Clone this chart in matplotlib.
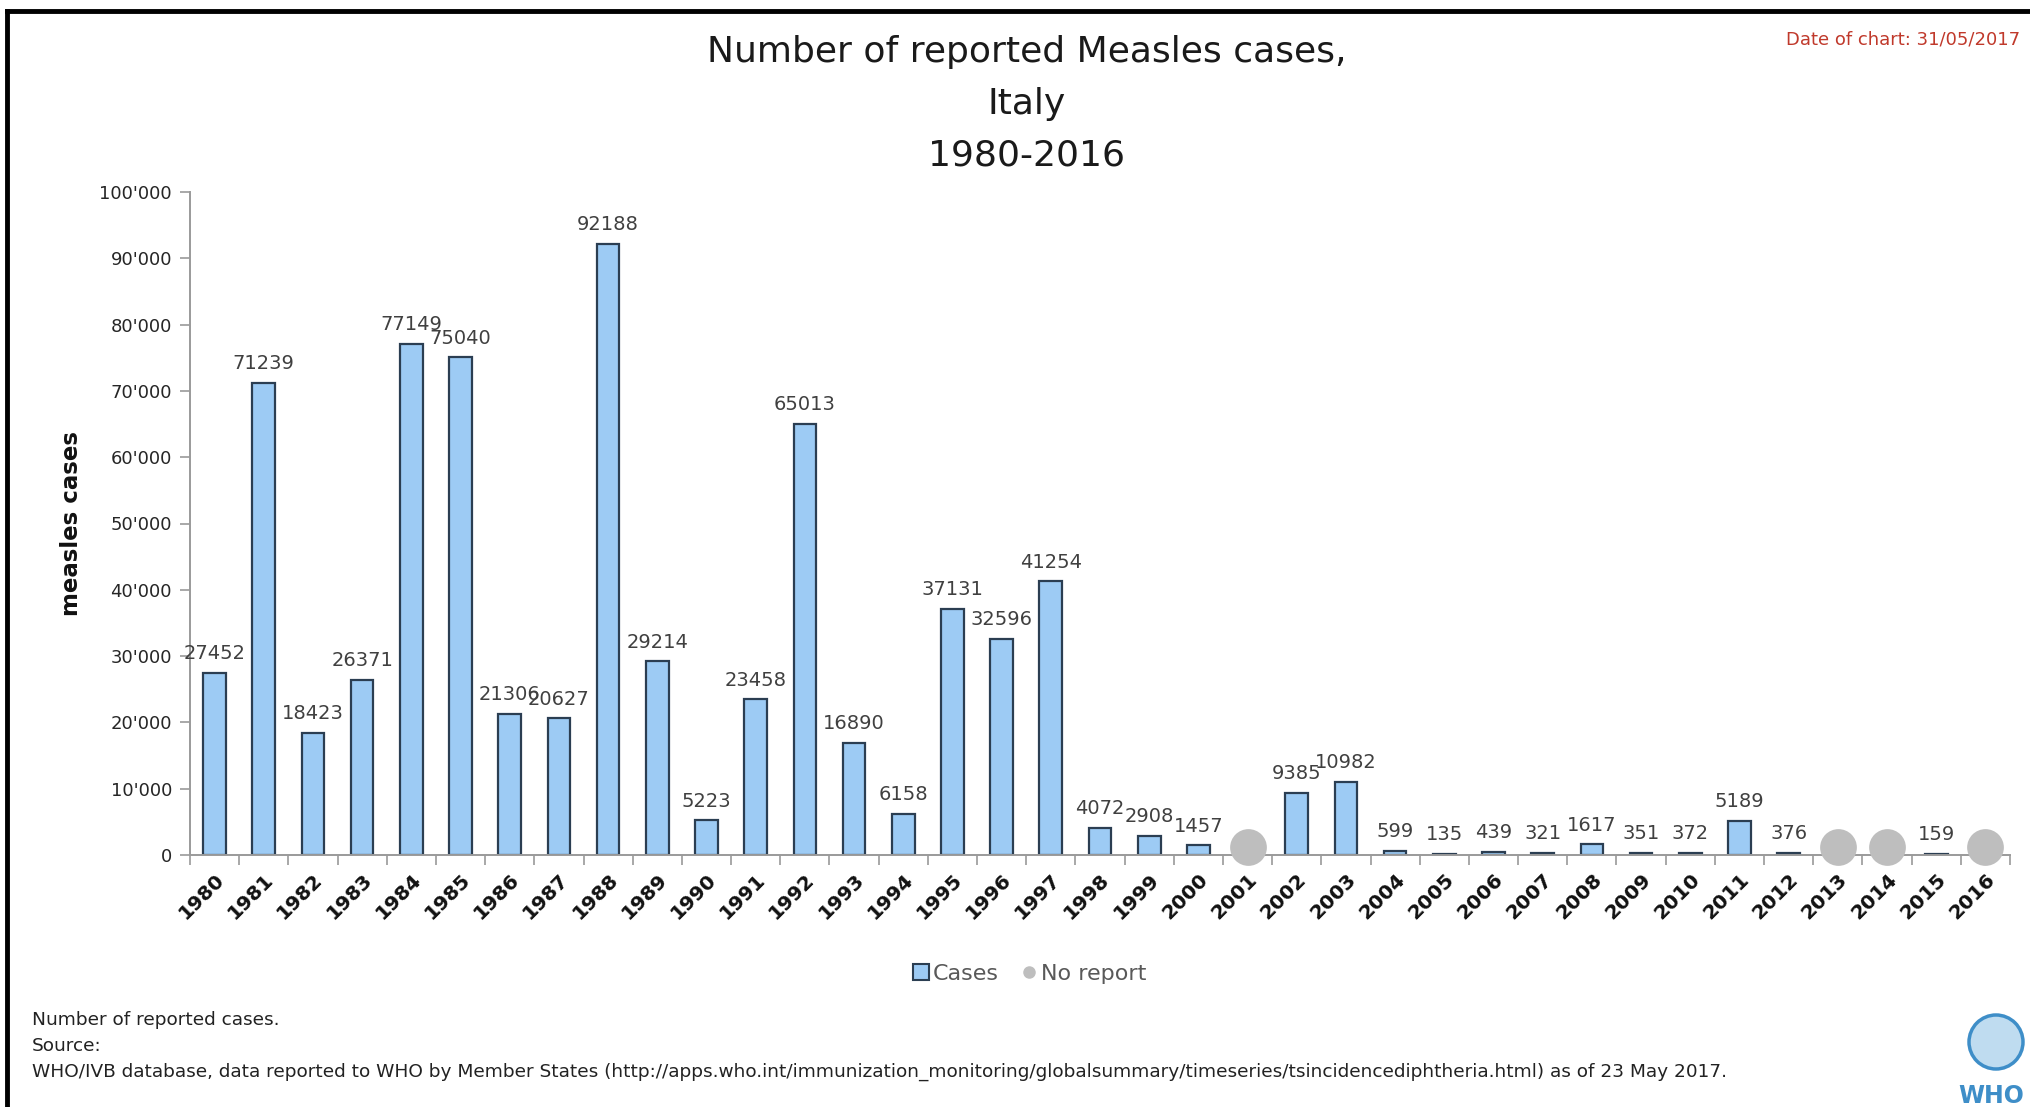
import matplotlib
matplotlib.use('Agg')
import matplotlib.pyplot as plt
import numpy as np
from matplotlib.ticker import FuncFormatter, FixedLocator
from matplotlib.lines import Line2D
from matplotlib.patches import Patch, Ellipse
import matplotlib.transforms as mtransforms

plt.rcParams['font.family'] = ['DejaVu Sans']

years = ['1980', '1981', '1982', '1983', '1984', '1985', '1986', '1987', '1988', '1989',
         '1990', '1991', '1992', '1993', '1994', '1995', '1996', '1997', '1998', '1999',
         '2000', '2001', '2002', '2003', '2004', '2005', '2006', '2007', '2008', '2009',
         '2010', '2011', '2012', '2013', '2014', '2015', '2016']
cases = [27452, 71239, 18423, 26371, 77149, 75040, 21306, 20627, 92188, 29214,
         5223, 23458, 65013, 16890, 6158, 37131, 32596, 41254, 4072, 2908,
         1457, None, 9385, 10982, 599, 135, 439, 321, 1617, 351,
         372, 5189, 376, None, None, 159, None]
no_report_years = ['2001', '2013', '2014', '2016']
y_ticks = [0, 10000, 20000, 30000, 40000, 50000, 60000, 70000, 80000, 90000, 100000]

W, H = 2030, 1107
fig = plt.figure(figsize=(W / 100, H / 100), dpi=100)
fig.patch.set_facecolor('white')

ax_left, ax_right, ax_top, ax_bottom = 190, 2010, 192, 855
ax = fig.add_axes([ax_left / W, 1 - ax_bottom / H, (ax_right - ax_left) / W, (ax_bottom - ax_top) / H])

x = np.arange(len(years))
vals = np.array([np.nan if v is None else v for v in cases], dtype=float)
ax.bar(x, np.nan_to_num(vals), width=0.46, color='#9DCBF4', edgecolor='#2B3E52',
       linewidth=1.6, zorder=2)

for xi, v in zip(x, cases):
    if v is not None:
        ax.annotate(str(v), (xi, v), xytext=(0, 7), textcoords='offset points',
                    ha='center', va='bottom', fontsize=14, color='#404040')

nr_idx = [years.index(y) for y in no_report_years]
off = mtransforms.offset_copy(ax.transData, fig=fig, x=0, y=6, units='points')
ax.scatter(nr_idx, [0] * len(nr_idx), s=700, color='#BEBEBE', zorder=4,
           clip_on=False, transform=off, linewidths=0)

ax.set_xlim(-0.5, len(years) - 0.5)
ax.set_ylim(0, 100000)
ax.set_xticks(x)
ax.set_xticklabels(years, rotation=45, ha='right', va='top', rotation_mode='anchor',
                   fontsize=14.5, fontweight='bold', color='#111111')
ax.xaxis.set_minor_locator(FixedLocator(np.arange(-0.5, len(years), 1.0)))
ax.tick_params(axis='x', which='major', length=0, pad=11)
ax.tick_params(axis='x', which='minor', length=7, color='#9A9A9A', width=1.2, direction='out')
ax.set_yticks(y_ticks)
ax.yaxis.set_major_formatter(FuncFormatter(lambda v, p: f"{int(v):,}".replace(',', "'")))
ax.tick_params(axis='y', length=7, color='#9A9A9A', width=1.2, labelsize=13,
               labelcolor='#262626', pad=6)
for s in ['top', 'right']:
    ax.spines[s].set_visible(False)
for s in ['left', 'bottom']:
    ax.spines[s].set_color('#9A9A9A')
    ax.spines[s].set_linewidth(1.4)

fig.text(71 / W, 1 - 524 / H, 'measles cases', rotation=90, fontweight='bold',
         fontsize=16.5, ha='center', va='center', color='#111111')

title_lines = ['Number of reported Measles cases,', 'Italy', '1980-2016']
for line, yp in zip(title_lines, [52, 104, 155]):
    fig.text(1027 / W, 1 - yp / H, line, fontsize=26, ha='center', va='center', color='#1a1a1a')

fig.text(2020 / W, 1 - 39 / H, 'Date of chart: 31/05/2017', color='#C0392B', fontsize=13,
         ha='right', va='center')

handles = [Patch(facecolor='#9DCBF4', edgecolor='#2B3E52', linewidth=1.5, label='Cases'),
           Line2D([], [], marker='o', linestyle='none', markersize=8, color='#BEBEBE',
                  label='No report')]
fig.legend(handles=handles, loc='center', bbox_to_anchor=(1030 / W, 1 - 974 / H), ncol=2,
           frameon=False, fontsize=16, labelcolor='#595959', handlelength=0.7,
           handleheight=0.7, handletextpad=0.2, columnspacing=1.0)

foot_size = 13.3
fig.text(32 / W, 1 - 1020 / H, 'Number of reported cases.', fontsize=foot_size, va='center', color='#222222')
fig.text(32 / W, 1 - 1046 / H, 'Source:', fontsize=foot_size, va='center', color='#222222')
fig.text(32 / W, 1 - 1072 / H,
         'WHO/IVB database, data reported to WHO by Member States '
         '(http://apps.who.int/immunization_monitoring/globalsummary/timeseries/tsincidencediphtheria.html) '
         'as of 23 May 2017.', fontsize=foot_size, va='center', color='#222222')

# frame
fig.add_artist(Line2D([7 / W, 7 / W], [0, 1 - 11 / H], transform=fig.transFigure, color='black', lw=3.5))
fig.add_artist(Line2D([7 / W, 1], [1 - 11 / H, 1 - 11 / H], transform=fig.transFigure, color='black', lw=3.5))

# WHO logo approximation
fig.add_artist(Ellipse((1996 / W, 1 - 1042 / H), width=54 / W, height=54 / H,
                       transform=fig.transFigure, facecolor='#BFDCF0', edgecolor='#3E8EC8', lw=2.5))
fig.text(1958 / W, 1 - 1096 / H, 'WHO', color='#3E8EC8', fontweight='bold', fontsize=17,
         ha='left', va='center')

fig.savefig('out.png', dpi=100, facecolor='white')
